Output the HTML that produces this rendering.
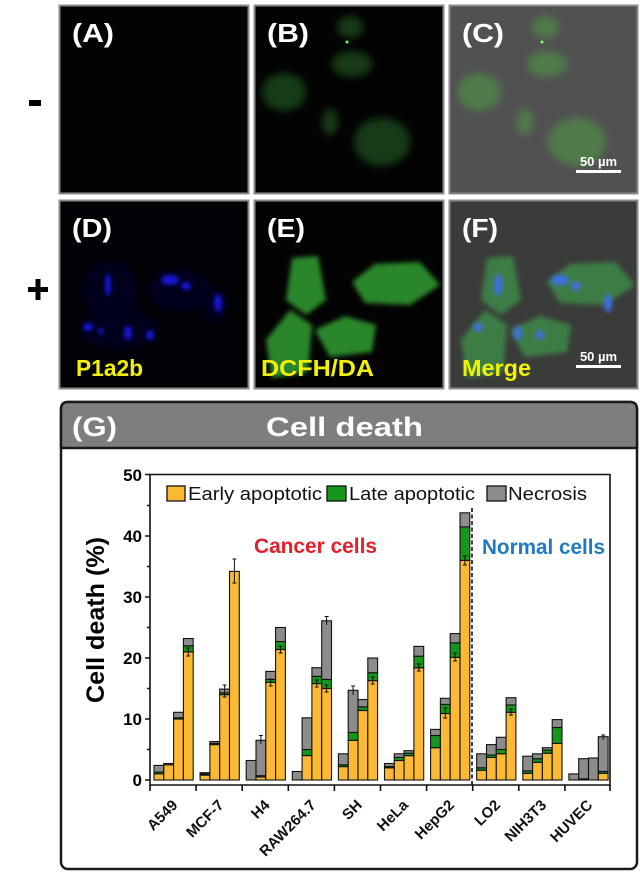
<!DOCTYPE html>
<html><head><meta charset="utf-8"><style>
html,body{margin:0;padding:0;background:#fff;}
svg{display:block;}
text{font-family:"Liberation Sans",Arial,sans-serif;}
</style></head><body>
<svg width="640" height="876" viewBox="0 0 640 876" xmlns="http://www.w3.org/2000/svg">
<defs>
<filter id="bl" x="-50%" y="-50%" width="200%" height="200%"><feGaussianBlur stdDeviation="4"/></filter>
<filter id="bm" x="-50%" y="-50%" width="200%" height="200%"><feGaussianBlur stdDeviation="2.5"/></filter>
<filter id="bs" x="-50%" y="-50%" width="200%" height="200%"><feGaussianBlur stdDeviation="2"/></filter>
<clipPath id="cB"><rect x="255" y="6" width="187" height="187"/></clipPath>
<clipPath id="cC"><rect x="450" y="6" width="187" height="187"/></clipPath>
<clipPath id="cD"><rect x="60" y="201" width="187" height="187"/></clipPath>
<clipPath id="cE"><rect x="255" y="201" width="187" height="187"/></clipPath>
<clipPath id="cF"><rect x="450" y="201" width="187" height="187"/></clipPath>
</defs>

<!-- sign labels -->
<rect x="29" y="100" width="12" height="6" fill="#000"/>
<rect x="28" y="287" width="20" height="5" fill="#000"/>
<rect x="35.5" y="279" width="5" height="21" fill="#000"/>

<!-- Panel A -->
<rect x="59.5" y="5.5" width="189" height="188" fill="#030303" stroke="#8a8a8a" stroke-width="2"/>
<!-- Panel B -->
<rect x="254.5" y="5.5" width="189" height="188" fill="#030303" stroke="#8a8a8a" stroke-width="2"/>
<g clip-path="url(#cB)" filter="url(#bl)" fill="#163a18">
<ellipse cx="284" cy="92" rx="22" ry="19"/>
<ellipse cx="382" cy="142" rx="28" ry="24"/>
<ellipse cx="352" cy="64" rx="20" ry="13"/>
<ellipse cx="350" cy="27" rx="13" ry="11"/>
<ellipse cx="330" cy="122" rx="8" ry="13"/>
</g>
<circle cx="347" cy="42" r="1.5" fill="#5f5"/>
<!-- Panel C -->
<rect x="449.5" y="5.5" width="188" height="188" fill="#505150" stroke="#8a8a8a" stroke-width="2"/>
<g clip-path="url(#cC)" filter="url(#bl)" fill="#4f7a4a">
<ellipse cx="479" cy="92" rx="22" ry="19"/>
<ellipse cx="577" cy="142" rx="29" ry="24"/>
<ellipse cx="547" cy="64" rx="20" ry="13"/>
<ellipse cx="545" cy="27" rx="13" ry="11"/>
<ellipse cx="525" cy="122" rx="8" ry="13"/>
</g>
<circle cx="542" cy="42" r="1.5" fill="#7f7"/>

<!-- Panel D -->
<rect x="59.5" y="200.5" width="189" height="188" fill="#020206" stroke="#8a8a8a" stroke-width="2"/>
<g clip-path="url(#cD)">
<g filter="url(#bl)" fill="#06061f">
<ellipse cx="110" cy="290" rx="28" ry="30"/>
<ellipse cx="180" cy="290" rx="32" ry="22"/>
<ellipse cx="120" cy="330" rx="40" ry="20"/>
<ellipse cx="215" cy="305" rx="14" ry="18"/>
</g>
<g filter="url(#bs)" fill="#1616d8">
<ellipse cx="108" cy="285" rx="3" ry="11"/>
<ellipse cx="170" cy="280" rx="9" ry="5"/>
<ellipse cx="186" cy="286" rx="5" ry="4"/>
<ellipse cx="218" cy="303" rx="4" ry="9"/>
<ellipse cx="88" cy="327" rx="5" ry="4"/>
<ellipse cx="101" cy="331" rx="3" ry="3"/>
<ellipse cx="128" cy="333" rx="4" ry="7"/>
<ellipse cx="150" cy="335" rx="4" ry="5"/>
</g>
</g>
<!-- Panel E -->
<rect x="254.5" y="200.5" width="189" height="188" fill="#030303" stroke="#8a8a8a" stroke-width="2"/>
<g clip-path="url(#cE)" filter="url(#bm)" fill="#2a862a">
<polygon points="292,258 318,256 326,300 306,315 286,300"/>
<polygon points="352,282 375,264 420,262 440,285 410,305 365,303"/>
<polygon points="266,340 290,310 312,325 308,372 272,378"/>
<polygon points="315,330 345,316 376,325 372,352 330,357"/>
</g>
<!-- Panel F -->
<rect x="449.5" y="200.5" width="188" height="188" fill="#3a3c3a" stroke="#8a8a8a" stroke-width="2"/>
<g clip-path="url(#cF)">
<g filter="url(#bm)" fill="#3e7d44">
<polygon points="487,258 513,256 521,300 501,315 481,300"/>
<polygon points="547,282 570,264 615,262 635,285 605,305 560,303"/>
<polygon points="461,340 485,310 507,325 503,372 467,378"/>
<polygon points="510,330 540,316 571,325 567,352 525,357"/>
</g>
<g filter="url(#bs)" fill="#3d6ee6">
<ellipse cx="498" cy="285" rx="4" ry="11"/>
<ellipse cx="560" cy="280" rx="9" ry="5"/>
<ellipse cx="576" cy="286" rx="5" ry="4"/>
<ellipse cx="608" cy="303" rx="4" ry="9"/>
<ellipse cx="478" cy="327" rx="5" ry="4"/>
<ellipse cx="518" cy="333" rx="4" ry="7"/>
<ellipse cx="540" cy="335" rx="4" ry="5"/>
</g>
</g>

<!-- panel labels -->
<g fill="#fff" font-weight="bold" font-size="26">
<text x="72" y="42" textLength="42" lengthAdjust="spacingAndGlyphs">(A)</text>
<text x="267" y="42" textLength="42" lengthAdjust="spacingAndGlyphs">(B)</text>
<text x="462" y="42" textLength="42" lengthAdjust="spacingAndGlyphs">(C)</text>
<text x="72" y="237" textLength="40" lengthAdjust="spacingAndGlyphs">(D)</text>
<text x="267" y="237" textLength="38" lengthAdjust="spacingAndGlyphs">(E)</text>
<text x="462" y="237" textLength="36" lengthAdjust="spacingAndGlyphs">(F)</text>
</g>
<g fill="#f2f200" font-weight="bold" font-size="23">
<text x="76" y="376" textLength="67" lengthAdjust="spacingAndGlyphs">P1a2b</text>
<text x="261" y="376" textLength="113" lengthAdjust="spacingAndGlyphs">DCFH/DA</text>
<text x="462" y="376" textLength="69" lengthAdjust="spacingAndGlyphs">Merge</text>
</g>
<!-- scale bars -->
<g fill="#fff">
<text x="598.5" y="166" font-size="13" font-weight="bold" text-anchor="middle">50 µm</text>
<rect x="576" y="170" width="45" height="3"/>
<text x="598.5" y="361" font-size="13" font-weight="bold" text-anchor="middle">50 µm</text>
<rect x="576" y="365" width="45" height="3"/>
</g>

<!-- Panel G box -->
<rect x="61" y="402" width="576" height="467" rx="7" ry="7" fill="#fff" stroke="#1a1a1a" stroke-width="2.5"/>
<path d="M61,448 L61,409 Q61,402 68,402 L630,402 Q637,402 637,409 L637,448 Z" fill="#7e7e7e" stroke="#1a1a1a" stroke-width="2.5"/>
<text x="72" y="436" fill="#fff" font-weight="bold" font-size="27" textLength="45" lengthAdjust="spacingAndGlyphs">(G)</text>
<text x="266" y="436" fill="#fff" font-weight="bold" font-size="27" textLength="157" lengthAdjust="spacingAndGlyphs">Cell death</text>

<!-- Axis title -->
<text transform="translate(104,620) rotate(-90)" text-anchor="middle" font-weight="bold" font-size="25" textLength="166" lengthAdjust="spacingAndGlyphs">Cell death (%)</text>

<!-- y tick labels -->
<g font-weight="bold" font-size="17" text-anchor="end">
<text x="142" y="786">0</text>
<text x="142" y="725">10</text>
<text x="142" y="664">20</text>
<text x="142" y="603">30</text>
<text x="142" y="542">40</text>
<text x="142" y="481">50</text>
</g>

<!-- bars -->
<g stroke="#111" stroke-width="1.1">
<!-- A549 -->
<rect x="154" y="773.9" width="9.8" height="6.1" fill="#fbb934"/>
<rect x="154" y="772.1" width="9.8" height="1.8" fill="#16961a"/>
<rect x="154" y="765.4" width="9.8" height="6.7" fill="#8c8c8c"/>
<rect x="163.8" y="764.8" width="9.8" height="15.2" fill="#fbb934"/>
<rect x="163.8" y="763.5" width="9.8" height="1.3" fill="#8c8c8c"/>
<rect x="173.6" y="719" width="9.8" height="61" fill="#fbb934"/>
<rect x="173.6" y="717.8" width="9.8" height="1.2" fill="#16961a"/>
<rect x="173.6" y="712.3" width="9.8" height="5.5" fill="#8c8c8c"/>
<rect x="183.4" y="651.9" width="9.8" height="128.1" fill="#fbb934"/>
<rect x="183.4" y="645.8" width="9.8" height="6.1" fill="#16961a"/>
<rect x="183.4" y="638.5" width="9.8" height="7.3" fill="#8c8c8c"/>
<!-- MCF-7 -->
<rect x="200.1" y="775.1" width="9.8" height="4.9" fill="#fbb934"/>
<rect x="200.1" y="773.9" width="9.8" height="1.2" fill="#16961a"/>
<rect x="200.1" y="772.7" width="9.8" height="1.2" fill="#8c8c8c"/>
<rect x="209.9" y="744.6" width="9.8" height="35.4" fill="#fbb934"/>
<rect x="209.9" y="743.4" width="9.8" height="1.2" fill="#16961a"/>
<rect x="209.9" y="741.6" width="9.8" height="1.8" fill="#8c8c8c"/>
<rect x="219.7" y="694.6" width="9.8" height="85.4" fill="#fbb934"/>
<rect x="219.7" y="692.8" width="9.8" height="1.8" fill="#16961a"/>
<rect x="219.7" y="689.1" width="9.8" height="3.7" fill="#8c8c8c"/>
<rect x="229.5" y="571.4" width="9.8" height="208.6" fill="#fbb934"/>
<!-- H4 -->
<rect x="246.2" y="760.5" width="9.8" height="19.5" fill="#8c8c8c"/>
<rect x="256" y="777" width="9.8" height="3" fill="#fbb934"/>
<rect x="256" y="775.7" width="9.8" height="1.3" fill="#16961a"/>
<rect x="256" y="740.3" width="9.8" height="35.4" fill="#8c8c8c"/>
<rect x="265.8" y="682.4" width="9.8" height="97.6" fill="#fbb934"/>
<rect x="265.8" y="679.4" width="9.8" height="3" fill="#16961a"/>
<rect x="265.8" y="671.4" width="9.8" height="8" fill="#8c8c8c"/>
<rect x="275.6" y="649.5" width="9.8" height="130.5" fill="#fbb934"/>
<rect x="275.6" y="641.5" width="9.8" height="8" fill="#16961a"/>
<rect x="275.6" y="627.5" width="9.8" height="14" fill="#8c8c8c"/>
<!-- RAW264.7 -->
<rect x="292.3" y="771.5" width="9.8" height="8.5" fill="#8c8c8c"/>
<rect x="302.1" y="755.6" width="9.8" height="24.4" fill="#fbb934"/>
<rect x="302.1" y="749.5" width="9.8" height="6.1" fill="#16961a"/>
<rect x="302.1" y="717.8" width="9.8" height="31.7" fill="#8c8c8c"/>
<rect x="311.9" y="683.6" width="9.8" height="96.4" fill="#fbb934"/>
<rect x="311.9" y="676.3" width="9.8" height="7.3" fill="#16961a"/>
<rect x="311.9" y="667.7" width="9.8" height="8.6" fill="#8c8c8c"/>
<rect x="321.7" y="688.5" width="9.8" height="91.5" fill="#fbb934"/>
<rect x="321.7" y="679.4" width="9.8" height="9.1" fill="#16961a"/>
<rect x="321.7" y="620.8" width="9.8" height="58.6" fill="#8c8c8c"/>
<!-- SH -->
<rect x="338.4" y="766.6" width="9.8" height="13.4" fill="#fbb934"/>
<rect x="338.4" y="764.8" width="9.8" height="1.8" fill="#16961a"/>
<rect x="338.4" y="753.8" width="9.8" height="11" fill="#8c8c8c"/>
<rect x="348.2" y="740.4" width="9.8" height="39.6" fill="#fbb934"/>
<rect x="348.2" y="732.4" width="9.8" height="8" fill="#16961a"/>
<rect x="348.2" y="690.3" width="9.8" height="42.1" fill="#8c8c8c"/>
<rect x="358" y="710.5" width="9.8" height="69.5" fill="#fbb934"/>
<rect x="358" y="706.8" width="9.8" height="3.7" fill="#16961a"/>
<rect x="358" y="699.5" width="9.8" height="7.3" fill="#8c8c8c"/>
<rect x="367.8" y="680.6" width="9.8" height="99.4" fill="#fbb934"/>
<rect x="367.8" y="672.7" width="9.8" height="7.9" fill="#16961a"/>
<rect x="367.8" y="658" width="9.8" height="14.7" fill="#8c8c8c"/>
<!-- HeLa -->
<rect x="384.5" y="767.8" width="9.8" height="12.2" fill="#fbb934"/>
<rect x="384.5" y="766.6" width="9.8" height="1.2" fill="#16961a"/>
<rect x="384.5" y="763.5" width="9.8" height="3.1" fill="#8c8c8c"/>
<rect x="394.3" y="760.5" width="9.8" height="19.5" fill="#fbb934"/>
<rect x="394.3" y="757.4" width="9.8" height="3.1" fill="#16961a"/>
<rect x="394.3" y="753.8" width="9.8" height="3.6" fill="#8c8c8c"/>
<rect x="404.1" y="755.6" width="9.8" height="24.4" fill="#fbb934"/>
<rect x="404.1" y="753.2" width="9.8" height="2.4" fill="#16961a"/>
<rect x="404.1" y="750.7" width="9.8" height="2.5" fill="#8c8c8c"/>
<rect x="413.9" y="667.8" width="9.8" height="112.2" fill="#fbb934"/>
<rect x="413.9" y="656.2" width="9.8" height="11.6" fill="#16961a"/>
<rect x="413.9" y="646.4" width="9.8" height="9.8" fill="#8c8c8c"/>
<!-- HepG2 -->
<rect x="430.6" y="747.7" width="9.8" height="32.3" fill="#fbb934"/>
<rect x="430.6" y="735.5" width="9.8" height="12.2" fill="#16961a"/>
<rect x="430.6" y="729.4" width="9.8" height="6.1" fill="#8c8c8c"/>
<rect x="440.4" y="713.5" width="9.8" height="66.5" fill="#fbb934"/>
<rect x="440.4" y="704.4" width="9.8" height="9.1" fill="#16961a"/>
<rect x="440.4" y="698.3" width="9.8" height="6.1" fill="#8c8c8c"/>
<rect x="450.2" y="657.4" width="9.8" height="122.6" fill="#fbb934"/>
<rect x="450.2" y="642.8" width="9.8" height="14.6" fill="#16961a"/>
<rect x="450.2" y="633.6" width="9.8" height="9.2" fill="#8c8c8c"/>
<rect x="460" y="560.4" width="9.8" height="219.6" fill="#fbb934"/>
<rect x="460" y="526.9" width="9.8" height="33.5" fill="#16961a"/>
<rect x="460" y="512.8" width="9.8" height="14.1" fill="#8c8c8c"/>
<!-- LO2 -->
<rect x="476.7" y="770.2" width="9.8" height="9.8" fill="#fbb934"/>
<rect x="476.7" y="767.8" width="9.8" height="2.4" fill="#16961a"/>
<rect x="476.7" y="753.8" width="9.8" height="14" fill="#8c8c8c"/>
<rect x="486.5" y="757.4" width="9.8" height="22.6" fill="#fbb934"/>
<rect x="486.5" y="755" width="9.8" height="2.4" fill="#16961a"/>
<rect x="486.5" y="744.6" width="9.8" height="10.4" fill="#8c8c8c"/>
<rect x="496.3" y="753.8" width="9.8" height="26.2" fill="#fbb934"/>
<rect x="496.3" y="749.5" width="9.8" height="4.3" fill="#16961a"/>
<rect x="496.3" y="737.3" width="9.8" height="12.2" fill="#8c8c8c"/>
<rect x="506.1" y="712.3" width="9.8" height="67.7" fill="#fbb934"/>
<rect x="506.1" y="705" width="9.8" height="7.3" fill="#16961a"/>
<rect x="506.1" y="697.7" width="9.8" height="7.3" fill="#8c8c8c"/>
<!-- NIH3T3 -->
<rect x="522.8" y="773.3" width="9.8" height="6.7" fill="#fbb934"/>
<rect x="522.8" y="770.9" width="9.8" height="2.4" fill="#16961a"/>
<rect x="522.8" y="756.2" width="9.8" height="14.7" fill="#8c8c8c"/>
<rect x="532.6" y="762.3" width="9.8" height="17.7" fill="#fbb934"/>
<rect x="532.6" y="758.7" width="9.8" height="3.6" fill="#16961a"/>
<rect x="532.6" y="753.8" width="9.8" height="4.9" fill="#8c8c8c"/>
<rect x="542.4" y="753.2" width="9.8" height="26.8" fill="#fbb934"/>
<rect x="542.4" y="750.1" width="9.8" height="3.1" fill="#16961a"/>
<rect x="542.4" y="747.7" width="9.8" height="2.4" fill="#8c8c8c"/>
<rect x="552.2" y="743.4" width="9.8" height="36.6" fill="#fbb934"/>
<rect x="552.2" y="727.5" width="9.8" height="15.9" fill="#16961a"/>
<rect x="552.2" y="719.6" width="9.8" height="7.9" fill="#8c8c8c"/>
<!-- HUVEC -->
<rect x="568.9" y="773.9" width="9.8" height="6.1" fill="#8c8c8c"/>
<rect x="578.7" y="778.8" width="9.8" height="1.2" fill="#fbb934"/>
<rect x="578.7" y="758.7" width="9.8" height="20.1" fill="#8c8c8c"/>
<rect x="588.5" y="758" width="9.8" height="22" fill="#8c8c8c"/>
<rect x="598.3" y="773.3" width="9.8" height="6.7" fill="#fbb934"/>
<rect x="598.3" y="771.5" width="9.8" height="1.8" fill="#16961a"/>
<rect x="598.3" y="736.7" width="9.8" height="34.8" fill="#8c8c8c"/>
</g>

<!-- error bars -->
<g stroke="#111" stroke-width="1" fill="none">
<path d="M234.4,559 V583 M232.4,559 H236.4 M232.4,583 H236.4"/>
<path d="M224.6,685 V697 M222.6,685 H226.6 M222.6,697 H226.6"/>
<path d="M260.9,735.5 V744 M258.9,735.5 H262.9"/>
<path d="M326.6,616.5 V625 M324.6,616.5 H328.6"/>
<path d="M353.1,686 V695 M351.1,686 H355.1"/>
<path d="M603.2,735 V740 M601.2,735 H605.2"/>
<path d="M188.3,648 V656 M186.3,648 H190.3 M186.3,656 H190.3"/>
<path d="M270.7,679 V686 M268.7,679 H272.7 M268.7,686 H272.7"/>
<path d="M280.5,646 V653 M278.5,646 H282.5 M278.5,653 H282.5"/>
<path d="M316.8,680 V687 M314.8,680 H318.8 M314.8,687 H318.8"/>
<path d="M326.6,685 V692 M324.6,685 H328.6 M324.6,692 H328.6"/>
<path d="M372.7,677 V684 M370.7,677 H374.7 M370.7,684 H374.7"/>
<path d="M418.8,664 V671 M416.8,664 H420.8 M416.8,671 H420.8"/>
<path d="M445.3,708 V718 M443.3,708 H447.3 M443.3,718 H447.3"/>
<path d="M455.1,653 V661 M453.1,653 H457.1 M453.1,661 H457.1"/>
<path d="M464.9,556 V565 M462.9,556 H466.9 M462.9,565 H466.9"/>
<path d="M511,709 V715 M509,709 H513 M509,715 H513"/>
</g>

<!-- axes -->
<g stroke="#111" stroke-width="1.6" fill="none">
<path d="M150,474.5 H610 V785 H150 Z"/>
<path d="M145,780 H150 M145,719 H150 M145,658 H150 M145,597 H150 M145,536 H150 M145,474.5 H150"/>
<path d="M147,749.5 H150 M147,688.5 H150 M147,627.5 H150 M147,566.5 H150 M147,505.5 H150"/>
<path d="M150,785 V791 M196.1,785 V791 M242.2,785 V791 M288.3,785 V791 M334.4,785 V791 M380.5,785 V791 M426.6,785 V791 M472.7,785 V791 M518.8,785 V791 M564.9,785 V791 M610,785 V791"/>
</g>
<line x1="472" y1="508" x2="472" y2="785" stroke="#111" stroke-width="1.6" stroke-dasharray="4,2.5"/>

<!-- legend -->
<g stroke="#111" stroke-width="1.3">
<rect x="167" y="486" width="18" height="15" fill="#fbb934"/>
<rect x="327" y="486" width="19" height="15" fill="#16961a"/>
<rect x="487" y="486" width="19" height="15" fill="#8c8c8c"/>
</g>
<g font-size="18" fill="#111">
<text x="188" y="500" textLength="134" lengthAdjust="spacingAndGlyphs">Early apoptotic</text>
<text x="349" y="500" textLength="126" lengthAdjust="spacingAndGlyphs">Late apoptotic</text>
<text x="508" y="500" textLength="79" lengthAdjust="spacingAndGlyphs">Necrosis</text>
</g>

<text x="254" y="553" font-size="21" font-weight="bold" fill="#e3202a" textLength="123" lengthAdjust="spacingAndGlyphs">Cancer cells</text>
<text x="482" y="554" font-size="21" font-weight="bold" fill="#1f7ac4" textLength="123" lengthAdjust="spacingAndGlyphs">Normal cells</text>

<!-- x labels -->
<g font-size="15" font-weight="bold" text-anchor="end" fill="#111">
<text transform="translate(178.5,806) rotate(-45)">A549</text>
<text transform="translate(224.6,806) rotate(-45)">MCF-7</text>
<text transform="translate(270.7,806) rotate(-45)">H4</text>
<text transform="translate(316.8,806) rotate(-45)">RAW264.7</text>
<text transform="translate(362.9,806) rotate(-45)">SH</text>
<text transform="translate(409,806) rotate(-45)">HeLa</text>
<text transform="translate(455.1,806) rotate(-45)">HepG2</text>
<text transform="translate(501.2,806) rotate(-45)">LO2</text>
<text transform="translate(547.3,806) rotate(-45)">NIH3T3</text>
<text transform="translate(593.4,806) rotate(-45)">HUVEC</text>
</g>
</svg>
</body></html>
